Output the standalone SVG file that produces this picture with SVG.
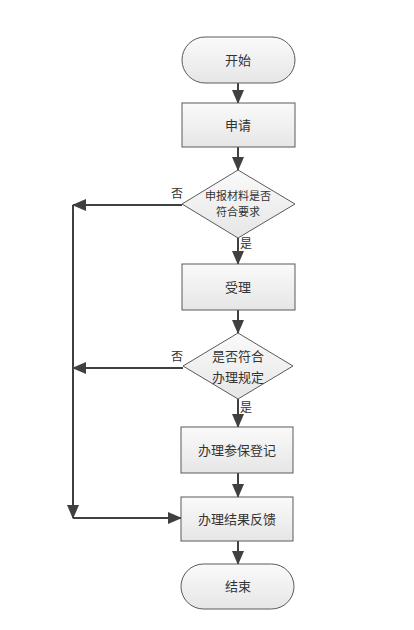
<svg xmlns="http://www.w3.org/2000/svg" width="414" height="630" viewBox="0 0 414 630">
<style>
.n{fill:url(#g);stroke:#5a5a5a;stroke-width:1}
.t{font-family:"Noto Sans CJK SC",sans-serif;font-size:13px;fill:#333;text-anchor:middle}
.s{font-size:11px}
.l{font-family:"Noto Sans CJK SC",sans-serif;font-size:12px;fill:#333}
.c{fill:none;stroke:#404040;stroke-width:2}
</style>
<defs>
<linearGradient id="g" x1="0" y1="0" x2="0" y2="1"><stop offset="0" stop-color="#fafafa"/><stop offset="1" stop-color="#e6e6e6"/></linearGradient>
<marker id="a" markerWidth="8" markerHeight="8" refX="7" refY="4" orient="auto" markerUnits="userSpaceOnUse" viewBox="0 0 8 8"><path d="M0,0 L8,4 L0,8 Z" fill="#404040"/></marker>
<marker id="b" markerWidth="14" markerHeight="12" refX="13" refY="6" orient="auto" markerUnits="userSpaceOnUse" viewBox="0 0 14 12"><path d="M0,0 L14,6 L0,12 Z" fill="#404040"/></marker>
</defs>
<rect width="414" height="630" fill="#fff"/>
<g id="connectors">
<path class="c" d="M238,83 V103" marker-end="url(#b)"/>
<path class="c" d="M238,147 V170" marker-end="url(#b)"/>
<path class="c" d="M238,238 V264" marker-end="url(#b)"/>
<path class="c" d="M238,310 V333" marker-end="url(#b)"/>
<path class="c" d="M238,399 V427" marker-end="url(#b)"/>
<path class="c" d="M238,473 V497" marker-end="url(#b)"/>
<path class="c" d="M238,541 V564" marker-end="url(#b)"/>
<path class="c" d="M182,205 H73" marker-end="url(#b)"/>
<path class="c" d="M183,368 H73" marker-end="url(#b)"/>
<path class="c" d="M73,205 V518" marker-end="url(#b)"/>
<path class="c" d="M73,518 H181" marker-end="url(#b)"/>
<text class="l" x="171" y="198">否</text>
<text class="l" x="171" y="361">否</text>
<text class="l" x="240" y="248">是</text>
<text class="l" x="240" y="412">是</text>
</g>
<g id="start"><rect class="n" x="182" y="37" width="113" height="46" rx="23"/><text class="t" x="238" y="65">开始</text></g>
<g id="apply"><rect class="n" x="182" y="103" width="113" height="44"/><text class="t" x="238" y="130">申请</text></g>
<g id="check1"><polygon class="n" points="238,170 295,204 238,238 182,204"/><text class="t s" x="238" y="200">申报材料是否</text><text class="t s" x="238" y="216">符合要求</text></g>
<g id="accept"><rect class="n" x="182" y="264" width="113" height="46"/><text class="t" x="238" y="292">受理</text></g>
<g id="check2"><polygon class="n" points="238,333 293,366 238,399 183,366"/><text class="t" x="238" y="361">是否符合</text><text class="t" x="238" y="382">办理规定</text></g>
<g id="register"><rect class="n" x="181" y="427" width="112" height="46"/><text class="t" x="237" y="455">办理参保登记</text></g>
<g id="feedback"><rect class="n" x="181" y="497" width="112" height="44"/><text class="t" x="237" y="524">办理结果反馈</text></g>
<g id="end"><rect class="n" x="181" y="564" width="113" height="45" rx="22.5"/><text class="t" x="238" y="591">结束</text></g>
</svg>
